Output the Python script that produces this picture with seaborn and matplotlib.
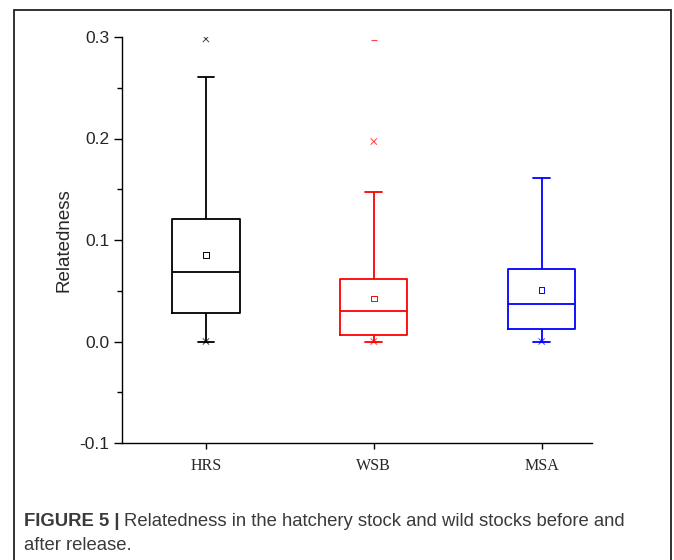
import numpy as np
import pandas as pd
import matplotlib
matplotlib.use("Agg")
import matplotlib.pyplot as plt
from matplotlib.patches import Rectangle
from matplotlib.ticker import MultipleLocator
import seaborn as sns

# ---- data ----
categories = ["HRS", "WSB", "MSA"]
whisker_low = [0.0, 0.0, 0.0]
q1 = [0.028, 0.0065, 0.012]
median = [0.068, 0.030, 0.0365]
q3 = [0.121, 0.062, 0.0715]
whisker_high = [0.261, 0.1475, 0.161]
means = [0.085, 0.0425, 0.0505]
# percentile markers (x) and extreme markers (-)
x_marker_cats = ["HRS", "HRS", "WSB", "WSB", "MSA"]
x_marker_vals = [0.298, 0.0, 0.197, 0.0, 0.0]
dash_marker_cats = ["WSB", "HRS", "WSB", "MSA"]
dash_marker_vals = [0.297, 0.0, 0.0, 0.0]
colors = {"HRS": "#000000", "WSB": "#FF0000", "MSA": "#0000FF"}
y_ticks = [-0.1, 0.0, 0.1, 0.2, 0.3]
y_tick_labels = ["-0.1", "0.0", "0.1", "0.2", "0.3"]

# five-number table that reproduces the box statistics exactly
rows = []
for i, c in enumerate(categories):
    for v in (whisker_low[i], q1[i], median[i], q3[i], whisker_high[i]):
        rows.append({"group": c, "value": v})
df = pd.DataFrame(rows)
df_mean = pd.DataFrame({"group": categories, "value": means})
df_x = pd.DataFrame({"group": x_marker_cats, "value": x_marker_vals})
df_d = pd.DataFrame({"group": dash_marker_cats, "value": dash_marker_vals})

sns.set_style("ticks")
plt.rcParams["font.family"] = ["Liberation Sans", "DejaVu Sans"]

fig = plt.figure(figsize=(6.74, 5.6), dpi=100)
ax = fig.add_axes([122 / 674, 1 - 443 / 560, (592 - 122) / 674, (443 - 37) / 560])

sns.boxplot(data=df, x="group", y="value", hue="group", order=categories,
            hue_order=categories, palette=colors, fill=False, width=0.4,
            whis=(0, 100), showfliers=False, linewidth=1.3, legend=False,
            capwidths=0.1, ax=ax)

def add_points(d, marker, size, lw, alpha=1.0):
    n_before = len(ax.collections)
    sns.stripplot(data=d, x="group", y="value", hue="group", order=categories,
                  hue_order=categories, palette=colors, jitter=False,
                  marker=marker, size=size, legend=False, ax=ax, zorder=5)
    for coll in ax.collections[n_before:]:
        fc = coll.get_facecolors()
        coll.set_facecolors("none")
        coll.set_edgecolors(fc)
        coll.set_linewidths(lw)
        coll.set_alpha(alpha)

add_points(df_mean, "s", 4, 0.7)
add_points(df_x, "x", 4.5, 0.7, alpha=0.75)
add_points(df_d, "_", 4.5, 0.8, alpha=0.75)

ax.set_ylim(-0.1, 0.3)
ax.set_xlim(-0.5, 2.3)
ax.set_yticks(y_ticks)
ax.set_yticklabels(y_tick_labels)
ax.yaxis.set_minor_locator(MultipleLocator(0.05))
ax.tick_params(axis="y", which="major", length=6, width=1.0, labelsize=12.5,
               pad=3, direction="out", color="black")
ax.tick_params(axis="y", which="minor", length=3.5, width=1.0, direction="out",
               color="black")
ax.tick_params(axis="x", which="major", length=4, width=1.0, pad=7, color="black")
ax.set_xticks(range(len(categories)))
ax.set_xticklabels(categories, fontfamily=["Liberation Serif", "DejaVu Serif"],
                   fontsize=11.5)
ax.set_xlabel("")
ax.set_ylabel("Relatedness", fontsize=13.5, labelpad=5)
for s in ("top", "right"):
    ax.spines[s].set_visible(False)
for s in ("left", "bottom"):
    ax.spines[s].set_linewidth(1.0)
    ax.spines[s].set_color("black")

# outer frame
fig.patches.append(Rectangle((14 / 674, -0.05), (671 - 14) / 674, 1.05 - 9.5 / 560,
                             transform=fig.transFigure, fill=False,
                             edgecolor="#222222", linewidth=1.3))

# caption
cap_color = "#3a3a3a"
cap_size = 13.3
t1 = fig.text(24 / 674, 1 - 521 / 560, "FIGURE 5 |", fontweight="bold",
              fontsize=cap_size, color=cap_color, va="center", ha="left")
fig.canvas.draw()
bb = t1.get_window_extent(renderer=fig.canvas.get_renderer())
fig.text((bb.x1 + 4) / 674, 1 - 521 / 560,
         "Relatedness in the hatchery stock and wild stocks before and",
         fontsize=cap_size, color=cap_color, va="center", ha="left")
fig.text(24 / 674, 1 - 546 / 560, "after release.",
         fontsize=cap_size, color=cap_color, va="center", ha="left")

fig.savefig("out.png", dpi=100)
